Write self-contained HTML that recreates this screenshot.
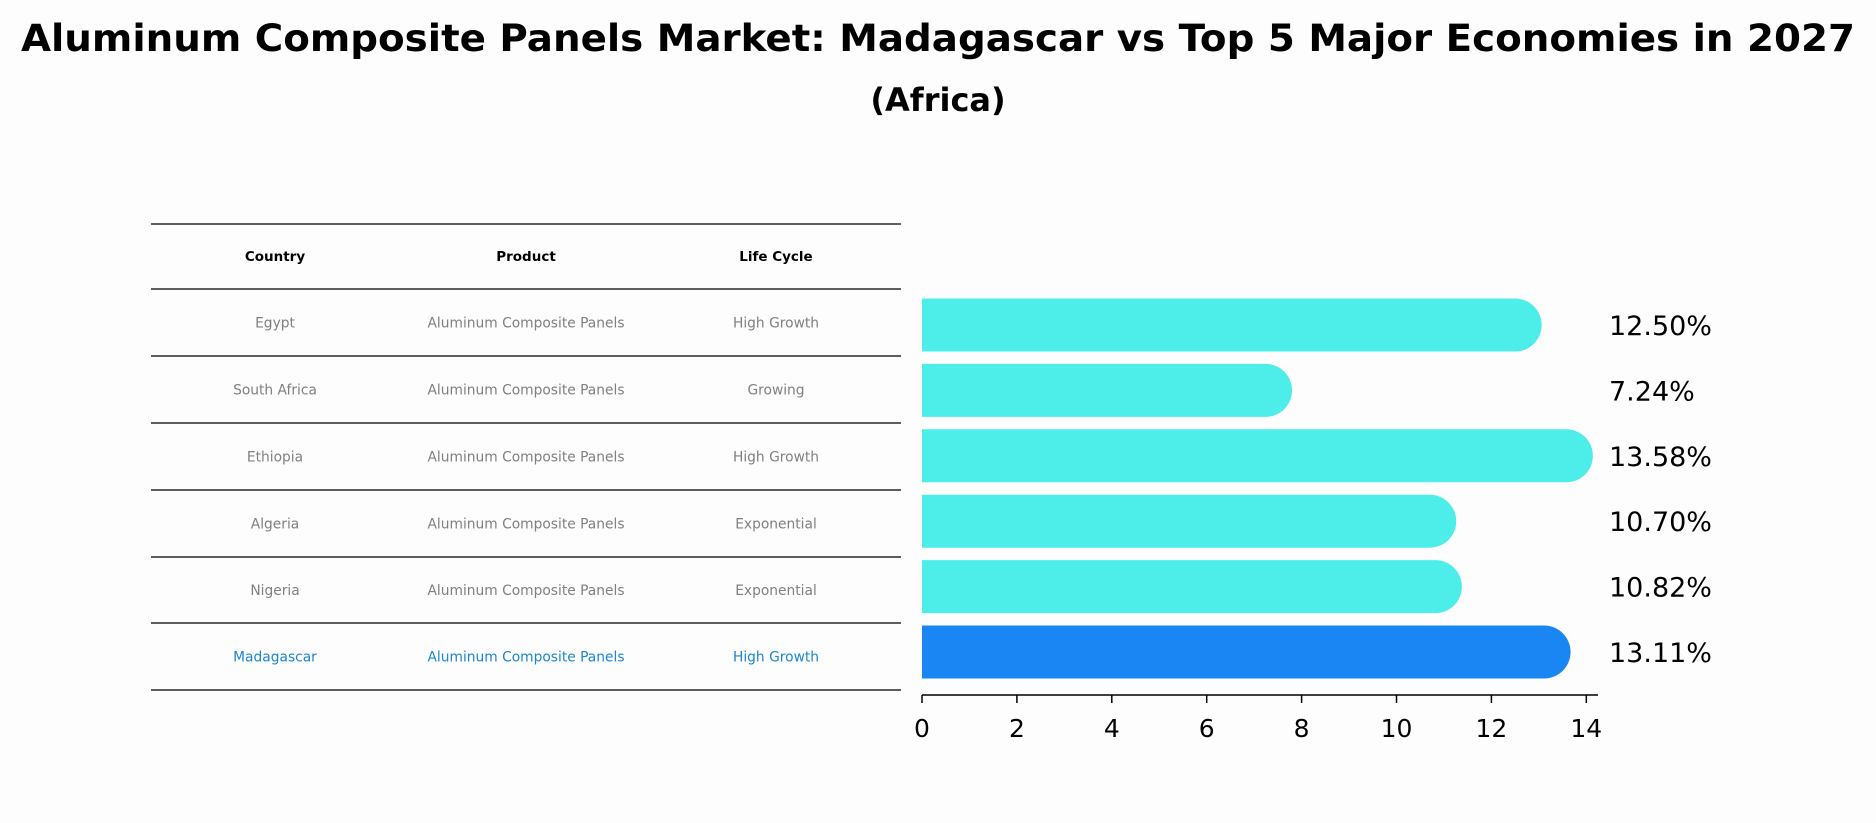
<!DOCTYPE html>
<html><head><meta charset="utf-8"><style>
body{margin:0;background:#fdfdfd;font-family:"DejaVu Sans","Liberation Sans",sans-serif;}
svg{display:block}
</style></head><body>
<svg width="1876" height="823" viewBox="0 0 1876 823">
<rect width="1876" height="823" fill="#fdfdfd"/>
<text x="938" y="51" text-anchor="middle" font-size="37" font-weight="bold" textLength="1834" lengthAdjust="spacingAndGlyphs">Aluminum Composite Panels Market: Madagascar vs Top 5 Major Economies in 2027</text>
<text x="938" y="111" text-anchor="middle" font-size="32" font-weight="bold">(Africa)</text>
<g id="table"></g>
<g id="bars"></g>
</svg>
<script>
const countries=["Egypt","South Africa","Ethiopia","Algeria","Nigeria","Madagascar"];
const products=["Aluminum Composite Panels","Aluminum Composite Panels","Aluminum Composite Panels","Aluminum Composite Panels","Aluminum Composite Panels","Aluminum Composite Panels"];
const lifecycles=["High Growth","Growing","High Growth","Exponential","Exponential","High Growth"];
const values=[12.50,7.24,13.58,10.70,10.82,13.11];
const valueLabels=["12.50%","7.24%","13.58%","10.70%","10.82%","13.11%"];
const ticks=[0,2,4,6,8,10,12,14];
const NS="http://www.w3.org/2000/svg";
function mk(p,tag,a,txt){const e=document.createElementNS(NS,tag);for(const k in a)e.setAttribute(k,a[k]);if(txt!==undefined)e.textContent=txt;p.appendChild(e);return e;}
const tb=document.getElementById('table');
const lineYs=[224,289,356,423,490,557,623,690];
const colX=[275,526,776];
lineYs.forEach((y,i)=>{const l=mk(tb,'line',{x1:151,x2:901,y1:y,y2:y,stroke:'#000','stroke-width':1.2});

});
["Country","Product","Life Cycle"].forEach((h,i)=>{const t=mk(tb,'text',{x:colX[i],y:261,'text-anchor':'middle','font-size':13.5,'font-weight':'bold'},h);

});
countries.forEach((c,r)=>{const y=(lineYs[r+1]+lineYs[r+2])/2+5;const col=r===countries.length-1?'#1a86d0':'#808080';
[c,products[r],lifecycles[r]].forEach((v,i)=>{const t=mk(tb,'text',{x:colX[i],y:y,'text-anchor':'middle','font-size':13.8,fill:col},v);

});});
const bg=document.getElementById('bars');
const x0=922,unit=47.45;const xs=v=>x0+v*unit;
const yc=i=>325+i*65.4;const bh=53;
values.forEach((v,i)=>{const cy=yc(i),r=bh/2,xe=xs(v);const col=i===values.length-1?'#1a86f4':'#4deeea';
const p=mk(bg,'path',{d:`M${x0},${cy-r} L${xe},${cy-r} A${r},${r} 0 0 1 ${xe},${cy+r} L${x0},${cy+r} Z`,fill:col});


const t=mk(bg,'text',{x:1609,y:cy+10,'font-size':27},valueLabels[i]);

});
const ax=mk(bg,'line',{x1:x0,x2:1598,y1:695,y2:695,stroke:'#000','stroke-width':1.5});


ticks.forEach(tk=>{const x=xs(tk);const l=mk(bg,'line',{x1:x,x2:x,y1:695,y2:703,stroke:'#000','stroke-width':1.5});


const t=mk(bg,'text',{x:x,y:737,'text-anchor':'middle','font-size':25},String(tk));

});
</script>
</body></html>
